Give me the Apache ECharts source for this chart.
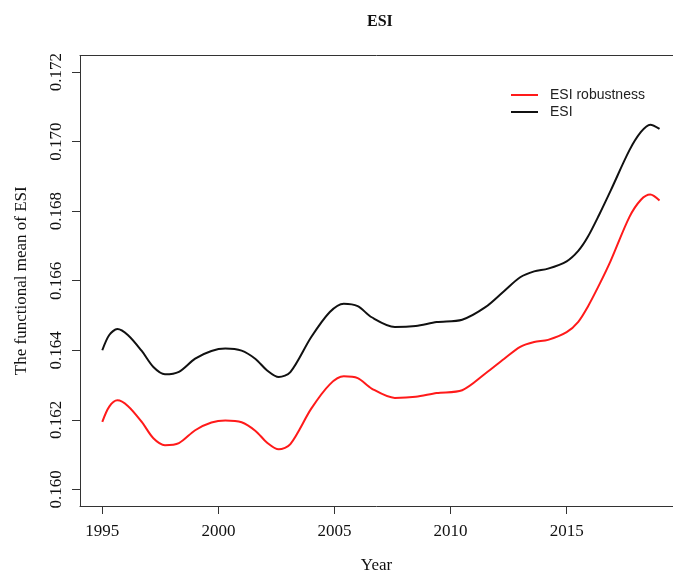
<!DOCTYPE html>
<html><head><meta charset="utf-8">
<script src="https://cdn.jsdelivr.net/npm/echarts@6/dist/echarts.min.js"></script>
<style>html,body{margin:0;padding:0;background:#fff}#c{width:673px;height:573px}</style>
</head><body><div id="c"></div>
<script>
const years = [1995, 1995.3, 1995.65, 1996.1, 1996.7, 1997.2, 1997.7, 1998.3, 1999, 1999.7, 2000.3, 2001, 2001.6, 2002.1, 2002.6, 2003.1, 2004, 2004.8, 2005.4, 2006, 2006.6, 2007.6, 2008.5, 2009.4, 2010.5, 2011.5, 2012.3, 2013, 2013.6, 2014.2, 2015, 2015.5, 2015.9, 2016.4, 2016.9, 2017.7, 2018.2, 2018.6, 2019];
const esiValues = [0.16400, 0.16444, 0.16461, 0.16444, 0.16398, 0.16352, 0.16331, 0.16338, 0.16376, 0.16398, 0.16405, 0.16399, 0.16375, 0.16342, 0.16323, 0.16337, 0.16438, 0.16510, 0.16534, 0.16527, 0.16495, 0.16467, 0.16470, 0.16481, 0.16488, 0.16524, 0.16570, 0.16610, 0.16627, 0.16635, 0.16656, 0.16686, 0.16725, 0.16790, 0.16860, 0.16975, 0.17028, 0.17049, 0.17037];
const robustnessValues = [0.16194, 0.16238, 0.16256, 0.16240, 0.16194, 0.16147, 0.16127, 0.16133, 0.16170, 0.16192, 0.16198, 0.16193, 0.16168, 0.16134, 0.16115, 0.16130, 0.16232, 0.16302, 0.16325, 0.16320, 0.16290, 0.16263, 0.16266, 0.16277, 0.16285, 0.16333, 0.16375, 0.16410, 0.16424, 0.16430, 0.16452, 0.16482, 0.16524, 0.16588, 0.16658, 0.16783, 0.16833, 0.16848, 0.16831];
const xTicks = [1995, 2000, 2005, 2010, 2015];
const yTicks = [0.160, 0.162, 0.164, 0.166, 0.168, 0.170, 0.172];
const seriesNames = ['ESI robustness', 'ESI'];
const chartTitle = 'ESI';
const xName = 'Year';
const yName = 'The functional mean of ESI';

const serif = '"Liberation Serif", "Times New Roman", serif';
const chart = echarts.init(document.getElementById('c'));
const pairs = (vals) => years.map((y, i) => [y, vals[i]]);
const xMin = 1994.04, xMax = 2019.58;
chart.setOption({
  animation: false,
  backgroundColor: '#fff',
  title: {
    text: chartTitle, left: 367, top: 14, padding: 0,
    textStyle: { fontFamily: serif, fontWeight: 'bold', fontSize: 16, color: '#111' }
  },
  legend: {
    orient: 'vertical', left: 511, top: 88, itemGap: 3, padding: 0,
    itemWidth: 27, itemHeight: 2,
    textStyle: { fontFamily: '"Liberation Sans", Arial, sans-serif', fontSize: 14, color: '#222', padding: [0, 0, 0, 7] },
    data: [
      { name: seriesNames[0], icon: 'rect' },
      { name: seriesNames[1], icon: 'rect' }
    ]
  },
  grid: { left: 80, top: 55.5, bottom: 67, right: 0, show: false, outerBoundsMode: 'none', containLabel: false },
  xAxis: [{
    type: 'value', min: xMin, max: xMax,
    name: xName, nameLocation: 'middle', nameGap: 51,
    nameTextStyle: { fontFamily: serif, fontSize: 17, color: '#111' },
    axisLine: { show: true, lineStyle: { color: '#333' } },
    axisTick: { show: true, customValues: xTicks, length: 8, lineStyle: { color: '#333' } },
    axisLabel: { customValues: xTicks, margin: 17, fontFamily: serif, fontSize: 17, color: '#111', formatter: v => String(v) },
    splitLine: { show: false }
  }, {
    type: 'value', min: xMin, max: xMax, position: 'top',
    axisLine: { show: true, lineStyle: { color: '#333' } },
    axisTick: { show: false }, axisLabel: { show: false }, splitLine: { show: false }
  }],
  yAxis: {
    type: 'value', min: 0.15952, max: 0.17248,
    name: yName, nameLocation: 'middle', nameGap: 50, nameRotate: 90,
    nameTextStyle: { fontFamily: serif, fontSize: 17, color: '#111' },
    axisLine: { show: true, lineStyle: { color: '#333' } },
    axisTick: { show: true, customValues: yTicks, length: 8, lineStyle: { color: '#333' } },
    axisLabel: { customValues: yTicks, rotate: 90, margin: 15, fontFamily: serif, fontSize: 17, color: '#111', formatter: v => v.toFixed(3) },
    splitLine: { show: false }
  },
  series: [
    { name: seriesNames[0], type: 'line', data: pairs(robustnessValues), smooth: 0.3, showSymbol: false, symbol: 'none',
      lineStyle: { color: '#ff1a1a', width: 2 }, itemStyle: { color: '#ff1a1a' } },
    { name: seriesNames[1], type: 'line', data: pairs(esiValues), smooth: 0.3, showSymbol: false, symbol: 'none',
      lineStyle: { color: '#111', width: 2 }, itemStyle: { color: '#111' } }
  ]
});
</script>
</body></html>
